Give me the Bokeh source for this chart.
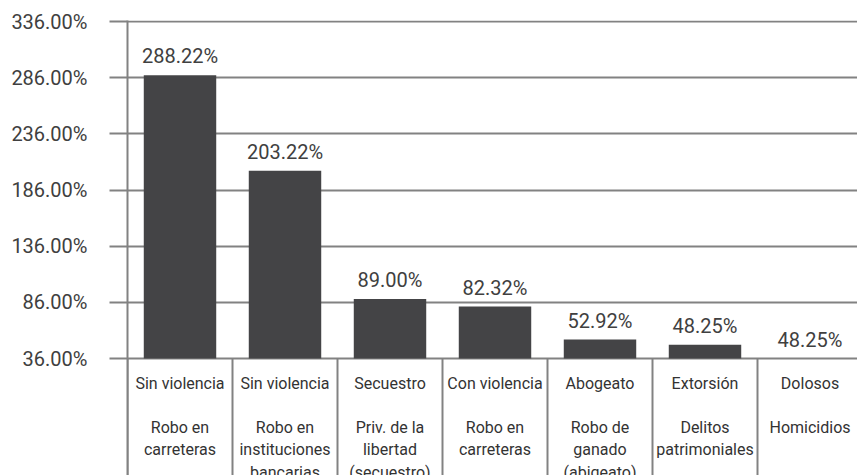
from bokeh.plotting import figure
from bokeh.models import Range1d, FixedTicker, PrintfTickFormatter
from bokeh.core.properties import value
from bokeh.embed import file_html
from bokeh.resources import INLINE

# ---- data ----
values = [288.22, 203.22, 89.00, 82.32, 52.92, 48.25, 36.0]
value_labels = ["288.22%", "203.22%", "89.00%", "82.32%", "52.92%", "48.25%", "48.25%"]
level1 = ["Sin violencia", "Sin violencia", "Secuestro", "Con violencia",
          "Abogeato", "Extorsión", "Dolosos"]
level2 = ["Robo en\ncarreteras", "Robo en\ninstituciones\nbancarias",
          "Priv. de la\nlibertad\n(secuestro)", "Robo en\ncarreteras",
          "Robo de\nganado\n(abigeato)", "Delitos\npatrimoniales", "Homicidios"]
y_ticks = [36, 86, 136, 186, 236, 286, 336]
baseline = 36

n = len(values)
xs = [i + 0.5 for i in range(n)]
seps = list(range(n + 1))

y_top = 337.0
y_bottom = -68.1

p = figure(width=857, height=475, output_backend="svg", toolbar_location=None,
           x_range=Range1d(0, 730 / 105), y_range=Range1d(y_bottom, y_top),
           min_border_left=127, min_border_right=0, min_border_top=20,
           min_border_bottom=0)
p.outline_line_color = None
p.background_fill_color = "white"
p.border_fill_color = "white"

GRID = "#828282"
p.xaxis.visible = False
p.xgrid.visible = False
p.ygrid.ticker = FixedTicker(ticks=y_ticks)
p.ygrid.grid_line_color = GRID
p.ygrid.grid_line_width = 2

ya = p.yaxis[0]
ya.ticker = FixedTicker(ticks=y_ticks)
ya.formatter = PrintfTickFormatter(format="%.2f%%")
ya.major_tick_out = 18
ya.major_tick_in = 0
ya.minor_tick_line_color = None
ya.major_tick_line_color = GRID
ya.major_tick_line_width = 2
ya.axis_line_color = GRID
ya.axis_line_width = 2
ya.major_label_standoff = 22
ya.major_label_text_font = "Roboto"
ya.major_label_text_font_size = "20px"
ya.major_label_text_color = "#404040"

# category separators
p.segment(x0=seps, y0=[baseline] * len(seps), x1=seps, y1=[y_bottom] * len(seps),
          line_color=GRID, line_width=2)

# bars
p.vbar(x=xs, width=0.69, bottom=baseline, top=values, fill_color="#444446",
       line_color=None)

# value labels
p.text(x=xs, y=values, text=value_labels, text_align="center", text_baseline="middle",
       y_offset=-19, text_font=value("Roboto"), text_font_size="20px", text_color="#404040")

# category labels
p.text(x=xs, y=[baseline] * n, text=level1, text_align="center", text_baseline="middle",
       y_offset=25, text_font=value("Roboto"), text_font_size="16px", text_color="#333333")
p.text(x=xs, y=[baseline] * n, text=level2, text_align="center", text_baseline="top",
       y_offset=59, text_line_height=1.2, text_font=value("Roboto"),
       text_font_size="16px", text_color="#333333")

open("out.html", "w").write(file_html(p, INLINE))
